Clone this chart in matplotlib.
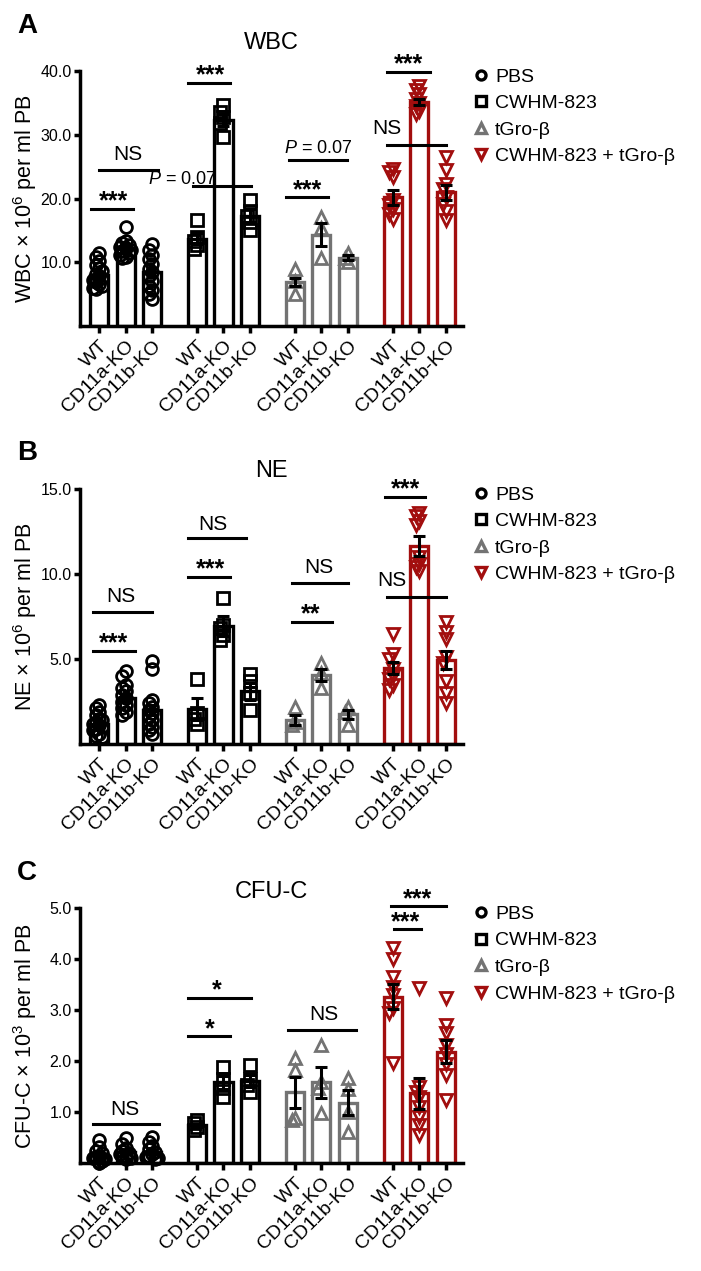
import matplotlib
matplotlib.use('Agg')
import matplotlib.pyplot as plt
from matplotlib.lines import Line2D

plt.rcParams['font.family'] = ['Liberation Sans', 'DejaVu Sans']
plt.rcParams['mathtext.fontset'] = 'custom'
plt.rcParams['mathtext.rm'] = 'Liberation Sans'
plt.rcParams['mathtext.it'] = 'Liberation Sans:italic'

genotypes = ['WT', 'CD11a-KO', 'CD11b-KO']
treatments = ['PBS', 'CWHM-823', 'tGro-\u03b2', 'CWHM-823 + tGro-\u03b2']
group_colors = ['#000000', '#000000', '#737373', '#a20e0e']
group_markers = ['o', 's', '^', 'v']

# ---- panel A : WBC (x10^6 per ml PB) ----
wbc_means = [8.0, 12.3, 8.4, 13.7, 32.3, 17.3, 6.9, 14.3, 10.7, 20.2, 35.1, 21.0]
wbc_sems = [0.4, 0.4, 0.7, 0.9, 0.9, 1.0, 0.7, 1.8, 0.4, 1.2, 0.5, 1.2]
wbc_points = [
    [11.4, 10.8, 10.2, 9.6, 9.1, 8.6, 8.2, 7.8, 7.5, 7.2, 6.9, 6.6, 6.3, 6.0, 5.8],
    [15.5, 13.4, 13.0, 12.7, 12.4, 12.2, 12.0, 11.8, 11.5, 11.2, 10.9, 10.6],
    [12.8, 11.9, 11.2, 10.5, 9.8, 9.0, 8.4, 7.8, 7.0, 6.3, 5.6, 5.0, 4.3],
    [16.7, 13.9, 13.3, 12.7, 12.1],
    [34.6, 33.6, 32.8, 31.8, 29.6],
    [19.7, 18.1, 17.2, 16.3, 15.0],
    [9.0, 7.0, 5.0],
    [17.1, 15.3, 10.6],
    [11.5, 10.7, 10.1],
    [24.7, 24.1, 23.3, 19.8, 19.0, 18.3, 17.6, 16.8],
    [37.7, 37.1, 36.4, 35.6, 35.0, 34.5, 33.8, 33.3],
    [26.5, 24.4, 22.3, 21.5, 20.2, 19.2, 18.1, 16.6],
]
# (x1, x2, line y, label, text x, text y)
wbc_annots = [
    (-0.3, 1.26, 18.4, '***', 0.53, 18.4),
    (0.0, 2.2, 24.5, 'NS', 1.09, 26.1),
    (3.33, 4.93, 38.2, '***', 4.17, 38.2),
    (3.52, 5.7, 21.9, '$P$ = 0.07', 3.14, 22.3),
    (7.03, 8.6, 20.2, '***', 7.82, 20.2),
    (7.14, 9.3, 26.0, '$P$ = 0.07', 8.23, 27.2),
    (10.81, 12.41, 39.9, '***', 11.62, 39.9),
    (10.81, 13.0, 28.4, 'NS', 10.79, 30.1),
]

# ---- panel B : NE (x10^6 per ml PB) ----
ne_means = [1.2, 2.7, 2.0, 2.05, 6.95, 3.1, 1.4, 4.05, 1.75, 4.46, 11.65, 4.94]
ne_sems = [0.15, 0.25, 0.3, 0.65, 0.6, 0.5, 0.3, 0.35, 0.25, 0.35, 0.6, 0.55]
ne_points = [
    [2.3, 2.1, 1.9, 1.7, 1.5, 1.4, 1.3, 1.2, 1.1, 1.0, 0.9, 0.8, 0.6, 0.5, 0.4],
    [4.3, 4.0, 3.5, 3.3, 3.1, 2.9, 2.7, 2.5, 2.3, 2.1, 1.9, 1.7],
    [4.9, 4.4, 2.6, 2.4, 2.2, 2.0, 1.8, 1.6, 1.4, 1.2, 1.0, 0.8, 0.6],
    [3.8, 1.8, 1.5, 1.2],
    [8.6, 7.0, 6.8, 6.4, 6.1],
    [4.1, 3.7, 3.0, 2.0],
    [2.2, 1.3, 1.1],
    [4.75, 4.2, 3.3],
    [2.2, 1.9, 1.1],
    [6.5, 5.3, 5.0, 4.4, 4.0, 3.8, 3.5, 3.2],
    [13.6, 13.4, 13.1, 12.9, 11.0, 10.6, 10.4, 10.2],
    [7.2, 6.6, 6.2, 5.1, 4.75, 3.7, 3.0, 2.4],
]
ne_annots = [
    (-0.23, 1.34, 5.5, '***', 0.53, 5.5),
    (-0.23, 2.0, 7.75, 'NS', 0.83, 8.37),
    (3.33, 4.93, 9.85, '***', 4.17, 9.85),
    (3.33, 5.5, 12.1, 'NS', 4.29, 12.6),
    (7.22, 8.75, 7.2, '**', 7.93, 7.2),
    (7.22, 9.33, 9.45, 'NS', 8.23, 10.08),
    (10.74, 12.23, 14.55, '***', 11.5, 14.55),
    (10.81, 13.0, 8.66, 'NS', 11.0, 9.3),
]

# ---- panel C : CFU-C (x10^3 per ml PB) ----
cfu_means = [0.16, 0.23, 0.22, 0.75, 1.59, 1.62, 1.39, 1.59, 1.19, 3.27, 1.37, 2.19]
cfu_sems = [0.04, 0.04, 0.04, 0.03, 0.13, 0.12, 0.31, 0.3, 0.25, 0.25, 0.31, 0.22]
cfu_points = [
    [0.46, 0.32, 0.25, 0.2, 0.15, 0.12, 0.1, 0.08, 0.05, 0.03, 0.02, 0.0],
    [0.5, 0.38, 0.3, 0.25, 0.2, 0.18, 0.15, 0.12, 0.1, 0.08],
    [0.52, 0.42, 0.34, 0.28, 0.22, 0.18, 0.15, 0.12, 0.1, 0.08],
    [0.85, 0.79, 0.72, 0.66],
    [1.88, 1.65, 1.47, 1.31],
    [1.93, 1.65, 1.54, 1.4],
    [2.06, 1.83, 0.88, 0.85],
    [2.32, 1.6, 1.48, 0.98],
    [1.68, 1.45, 1.0, 0.62],
    [4.22, 4.0, 3.66, 3.45, 3.3, 3.05, 2.95, 1.96],
    [3.43, 1.5, 1.4, 1.3, 1.1, 0.9, 0.75, 0.56],
    [3.24, 2.71, 2.55, 2.32, 2.15, 1.95, 1.73, 1.24],
]
cfu_annots = [
    (-0.24, 2.27, 0.77, 'NS', 0.98, 0.95),
    (3.33, 4.93, 2.5, '*', 4.17, 2.5),
    (3.33, 5.7, 3.25, '*', 4.4, 3.25),
    (7.1, 9.64, 2.61, 'NS', 8.42, 2.81),
    (11.08, 12.08, 4.59, '***', 11.5, 4.59),
    (10.95, 13.0, 5.05, '***', 11.94, 5.05),
]

GROUP_STEP = 3.67
positions = [g * GROUP_STEP + i for g in range(4) for i in range(3)]


def swarm_offsets(vals, thr):
    # simple dot spreading so overlapping points sit side by side
    placed = []
    offs = []
    for v in vals:
        chosen = 0.0
        for off in [0.0, -0.12, 0.12, -0.22, 0.22]:
            if all(abs(v - pv) > thr or abs(off - po) > 0.08 for pv, po in placed):
                chosen = off
                break
        placed.append((v, chosen))
        offs.append(chosen)
    return offs


def draw_panel(ax, means, sems, points, ymax, yticks, title, ylabel, annots, title_dy):
    colors = [group_colors[k // 3] for k in range(12)]
    ax.bar(positions, means, width=0.68, facecolor='white', edgecolor=colors,
           linewidth=2.4, zorder=2)
    for k, vals in enumerate(points):
        g = k // 3
        offs = swarm_offsets(vals, ymax * 0.025)
        xs = [positions[k] + o for o in offs]
        ax.plot(xs, vals, ls='none', marker=group_markers[g], ms=8.5, mew=2,
                mfc='none', mec=group_colors[g], zorder=3, clip_on=False)
    ax.errorbar(positions, means, yerr=sems, fmt='none', ecolor='black',
                elinewidth=2.2, capsize=4, capthick=2.2, zorder=4)

    for x1, x2, y, label, tx, ty in annots:
        ax.plot([x1, x2], [y, y], color='black', lw=2.2, clip_on=False, zorder=5)
        star = label.startswith('*')
        ax.text(tx, ty, label, ha='center', va='baseline',
                fontsize=18 if star else (13 if 'P' in label else 15),
                fontweight='bold' if star else 'normal', clip_on=False)

    ax.set_xlim(-0.71, positions[-1] + 0.64)
    ax.set_ylim(0, ymax)
    ax.set_yticks(yticks)
    ax.set_yticklabels([f'{t:.1f}' for t in yticks])
    ax.set_xticks(positions)
    ax.set_xticklabels(genotypes * 4, rotation=45, ha='right', rotation_mode='anchor')
    for s in ['top', 'right']:
        ax.spines[s].set_visible(False)
    for s in ['left', 'bottom']:
        ax.spines[s].set_linewidth(2.5)
    ax.tick_params(axis='y', length=4, width=2.5, labelsize=11.5, pad=2)
    ax.tick_params(axis='x', length=5, width=2.5, labelsize=14, pad=3)
    ax.set_ylabel(ylabel, fontsize=15.5)
    ax.yaxis.set_label_coords(-0.108, 0.5)
    ax.text(0.5, 1 + title_dy, title, transform=ax.transAxes, ha='center',
            va='center', fontsize=17)

    handles = [Line2D([], [], ls='none', marker=group_markers[g], ms=6.5, mew=2.4,
                      mfc='none', mec=group_colors[g]) for g in range(4)]
    ax.legend(handles, treatments, loc='upper left', bbox_to_anchor=(1.03, 1.012),
              frameon=False, fontsize=14, handlelength=0.7, handletextpad=0.35,
              labelspacing=0.46, borderaxespad=0, borderpad=0)


fig = plt.figure(figsize=(7.01, 12.71), dpi=100)
ax_a = fig.add_axes([0.1141, 0.7435, 0.5464, 0.2006])
ax_b = fig.add_axes([0.1141, 0.4146, 0.5464, 0.2006])
ax_c = fig.add_axes([0.1141, 0.0847, 0.5464, 0.2006])

draw_panel(ax_a, wbc_means, wbc_sems, wbc_points, 40, [10, 20, 30, 40], 'WBC',
           'WBC \u00d7 10$^{6}$ per ml PB', wbc_annots, 0.11)
draw_panel(ax_b, ne_means, ne_sems, ne_points, 15, [5, 10, 15], 'NE',
           'NE \u00d7 10$^{6}$ per ml PB', ne_annots, 0.071)
draw_panel(ax_c, cfu_means, cfu_sems, cfu_points, 5, [1, 2, 3, 4, 5], 'CFU-C',
           'CFU-C \u00d7 10$^{3}$ per ml PB', cfu_annots, 0.063)

for letter, ypx in [('A', 26), ('B', 453), ('C', 873)]:
    fig.text(27 / 701, 1 - ypx / 1271, letter, fontsize=20, fontweight='bold',
             ha='center', va='center')

fig.savefig('out.png', dpi=100)
